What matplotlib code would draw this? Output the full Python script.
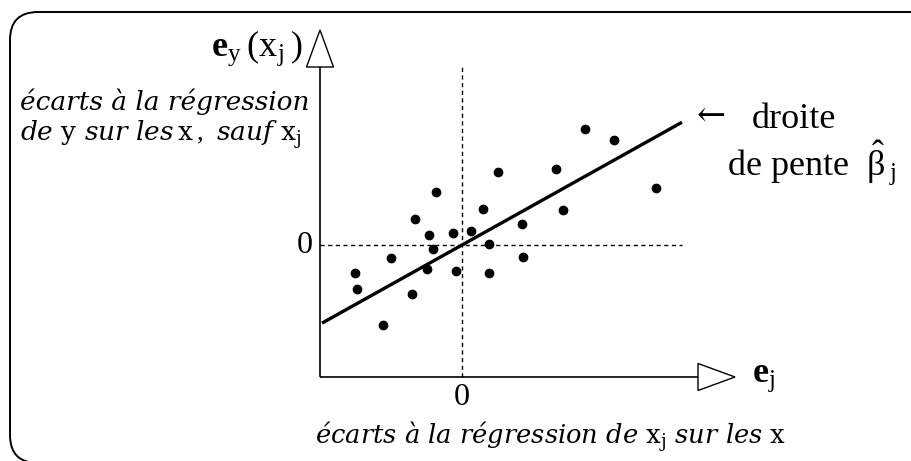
import numpy as np
import matplotlib
matplotlib.use("Agg")
import matplotlib.pyplot as plt
from matplotlib.patches import FancyBboxPatch, Polygon

plt.rcParams['mathtext.fontset'] = 'custom'
plt.rcParams['mathtext.rm'] = 'Liberation Serif'
plt.rcParams['mathtext.it'] = 'DejaVu Serif:italic'
plt.rcParams['mathtext.bf'] = 'Liberation Serif:bold'
plt.rcParams['mathtext.sf'] = 'DejaVu Serif'

# residuals: x = e_j, y = e_y(x_j)
ej = [0.36, -0.26, -0.47, 0.21, -0.33, -0.09, 0.09, 0.27, -0.29, -0.71, -1.07, -0.35,
      -0.06, 0.27, -1.05, -0.50, -0.79, 1.23, 1.52, 0.94, 1.94, 1.01, 0.60, 0.61]
ey = [0.73, 0.53, 0.26, 0.36, 0.10, 0.12, 0.14, 0.01, -0.04, -0.13, -0.28, -0.24,
      -0.26, -0.28, -0.44, -0.49, -0.80, 1.16, 1.05, 0.76, 0.57, 0.35, 0.21, -0.12]
beta_hat = 0.558
line_x = [-1.40, 2.20]

fig = plt.figure(figsize=(9.11, 4.61), dpi=100)
ax = fig.add_axes([0, 0, 1, 1])
ax.set_xlim(-4.62, 4.49)
ax.set_ylim(-2.16, 2.45)
ax.axis('off')

serif = ['Liberation Serif', 'DejaVu Serif']
ital = dict(family='DejaVu Serif', style='italic')

# rounded frame
frame = FancyBboxPatch((-4.52, -2.18), 9.3, 4.51, boxstyle="round,pad=0,rounding_size=0.28",
                       fc='none', ec='black', lw=1.4, clip_on=False)
ax.add_patch(frame)

# axes with open arrow heads
x0, y0 = -1.42, -1.32
ax.plot([x0, x0], [y0, 1.78], color='black', lw=1.2, solid_capstyle='butt')
ax.plot([x0, 2.36], [y0, y0], color='black', lw=1.2, solid_capstyle='butt')
ax.add_patch(Polygon([[x0 - 0.135, 1.78], [x0 + 0.135, 1.78], [x0, 2.15]], closed=True,
                     fc='white', ec='black', lw=1.0))
ax.add_patch(Polygon([[2.36, y0 - 0.135], [2.36, y0 + 0.135], [2.73, y0]], closed=True,
                     fc='white', ec='black', lw=1.0))

# zero lines
ax.plot([0, 0], [y0, 1.78], color='black', lw=1.0, dashes=(3, 2.5))
ax.plot([x0, 2.20], [0, 0], color='black', lw=1.0, dashes=(3, 2.5))

# regression line and points
lx = np.array(line_x)
ax.plot(lx, beta_hat * lx, color='black', lw=2.4, solid_capstyle='butt')
ax.plot(ej, ey, 'o', color='black', ms=6)

# labels
ax.text(-1.59, 1.89, r"$\mathbf{e}_{\mathrm{y}}\,(\mathrm{x}_{\mathrm{j}}\,)$", fontsize=26,
        ha='right', va='baseline')
ax.text(-4.42, 1.35, "écarts à la régression", fontsize=19, ha='left', va='baseline', **ital)
ax.text(-4.42, 1.04, r"$\mathit{de}\ \mathsf{y}\ \mathit{sur\ les}\,\mathsf{x}\,,\ \mathit{sauf}\ \mathsf{x}_{\mathsf{j}}$",
        fontsize=19, ha='left', va='baseline')
ax.text(-1.49, 0, "0", fontsize=23, family=serif, ha='right', va='center')
ax.text(0, -1.38, "0", fontsize=23, family=serif, ha='center', va='top')
ax.text(-1.47, -1.99, r"$\mathit{écarts\ à\ la\ régression\ de}\ \mathsf{x}_{\mathsf{j}}\ \mathit{sur\ les}\ \mathsf{x}$",
        fontsize=18.5, ha='left', va='baseline')
ax.text(2.90, -1.37, r"$\mathbf{e}_{\mathrm{j}}$", fontsize=26, ha='left', va='baseline')
ax.text(2.35, 1.19, "←", fontsize=25, family='DejaVu Serif', ha='left', va='baseline')
ax.text(2.90, 1.17, "droite", fontsize=26, family=serif, ha='left', va='baseline')
ax.text(2.65, 0.70, r"de pente  $\hat{\mathrm{\beta}}_{\,\mathrm{j}}$", fontsize=26, family=serif,
        ha='left', va='baseline')

fig.savefig("out.png", dpi=100)
